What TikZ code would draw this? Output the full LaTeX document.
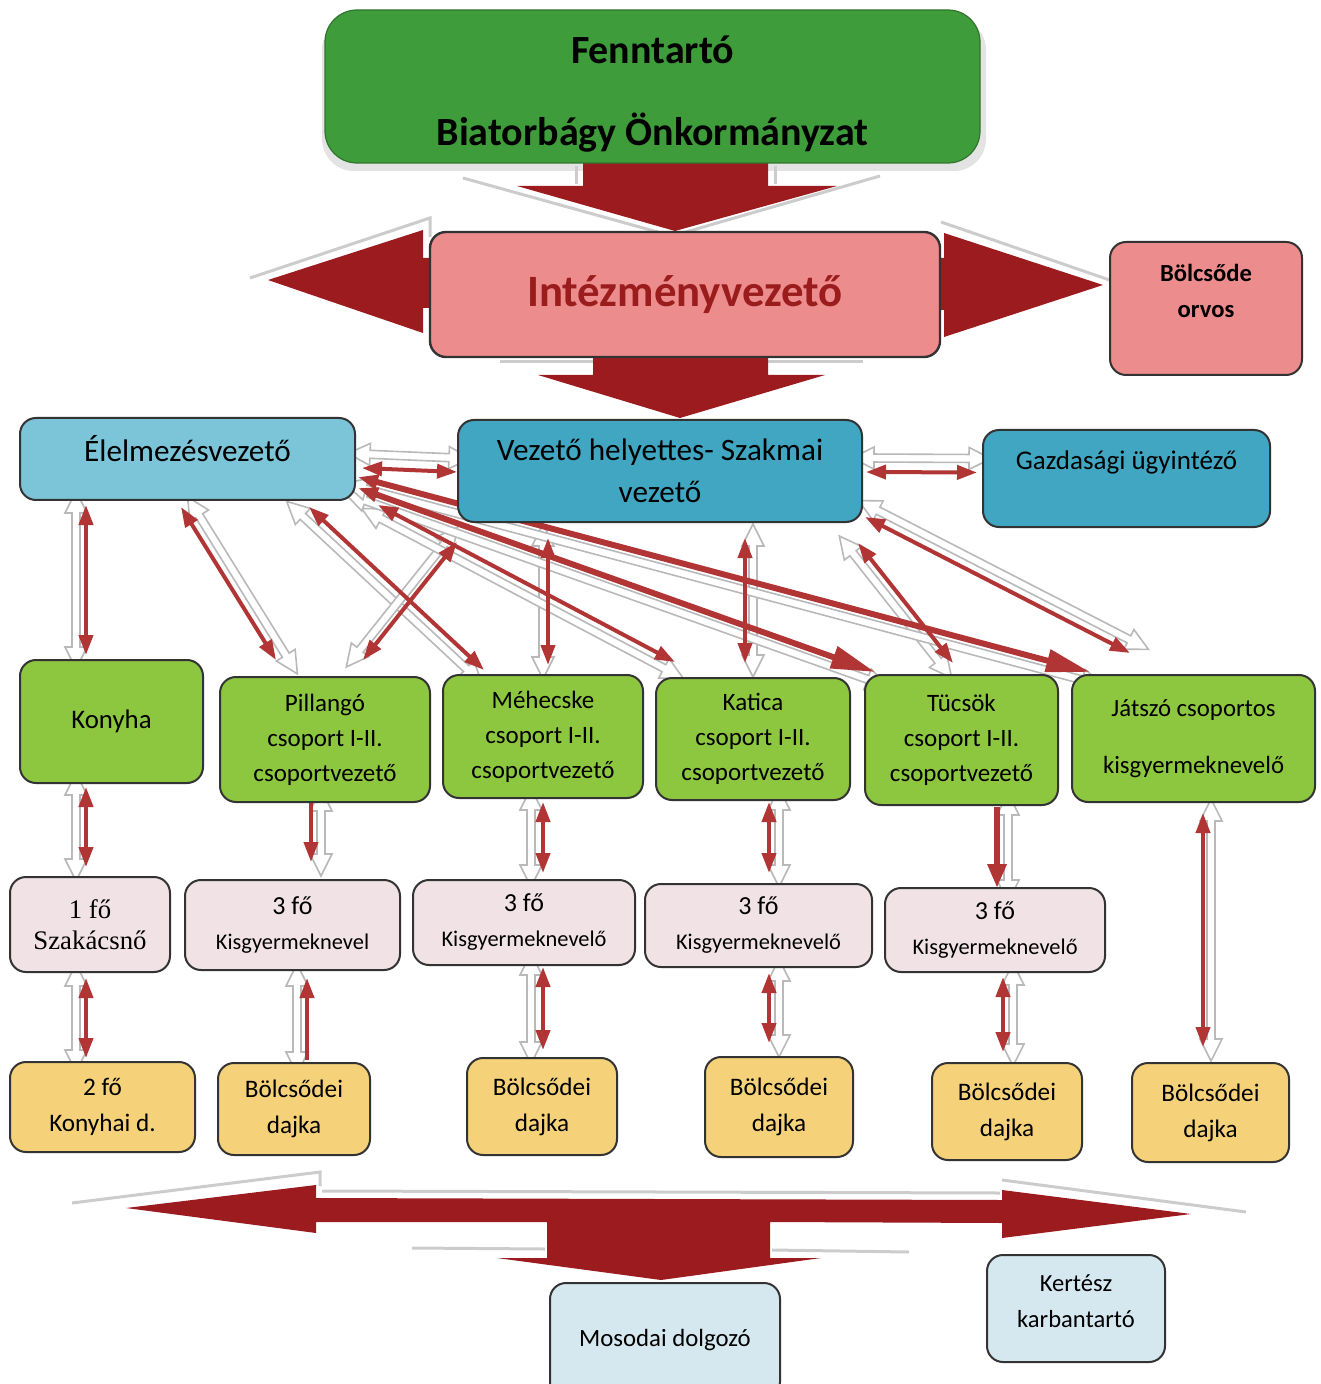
\documentclass[tikz,border=0pt]{standalone}
\usepackage{fontspec}
\setmainfont{Carlito}
\newfontfamily\timesf{Liberation Serif}
\usetikzlibrary{arrows.meta,calc}
\definecolor{fenng}{HTML}{3E9C3A}
\definecolor{pinkb}{HTML}{EC8C8C}
\definecolor{dred}{HTML}{9C1B1F}
\definecolor{tred}{HTML}{9B1C1C}
\definecolor{lblue}{HTML}{7CC5D8}
\definecolor{tealb}{HTML}{40A6C2}
\definecolor{lgreen}{HTML}{8DC63F}
\definecolor{lpink}{HTML}{F1E3E5}
\definecolor{yel}{HTML}{F5D27A}
\definecolor{pale}{HTML}{D5E8EF}
\definecolor{cred}{HTML}{B23535}
\pgfdeclarelayer{bg}
\pgfsetlayers{bg,main}
\tikzset{
  area/.style n args={4}{minimum width={(#3-#1)*0.5pt}, minimum height={(#4-#2)*0.5pt},
        at={({(#1+#3)/2},{(#2+#4)/2})}},
  bx/.style={inner sep=0pt, outer sep=0pt, rounded corners=8pt, draw=black!80, line width=1pt, align=center},
  grn/.style={bx, fill=lgreen, font=\fontsize{12.5}{17.5}\selectfont},
  pnk/.style={bx, fill=lpink, font=\fontsize{11.2}{17.5}\selectfont},
  ylw/.style={bx, fill=yel, font=\fontsize{12.6}{18}\selectfont},
  pl/.style={bx, fill=pale, font=\fontsize{12.4}{18}\selectfont},
  hol/.style={fill=white, draw=gray!55, line width=0.8pt, line join=miter},
  lnk/.style={draw=cred, line width=2pt, >={Triangle[width=7pt,length=10pt]}, <->},
  lnkbig/.style={draw=cred, line width=3pt,
        arrows={Triangle[width=7pt,length=10pt]-Triangle[width=11pt,length=22pt]}},
  lnkdown/.style={lnk, ->},
  lnkup/.style={lnk, <-},
  lnkdownbig/.style={draw=cred, line width=3pt, >={Triangle[width=9pt,length=12pt]}, ->},
  bigar/.style={fill=dred, draw=none},
  biggray/.style={draw=gray!40, line width=1.5pt},
}
\newcommand\hollow[2]{%
  \path ($(#1)!11pt!(#2)$) coordinate (hA) ($(#2)!11pt!(#1)$) coordinate (hB);
  \filldraw[hol] (#1) -- ($(hA)!5.5pt!90:(#2)$) -- ($(hA)!2pt!90:(#2)$)
    -- ($(hB)!2pt!-90:(#1)$) -- ($(hB)!5.5pt!-90:(#1)$) -- (#2)
    -- ($(hB)!5.5pt!90:(#1)$) -- ($(hB)!2pt!90:(#1)$)
    -- ($(hA)!2pt!-90:(#2)$) -- ($(hA)!5.5pt!-90:(#2)$) -- cycle;}
\newcommand\connlist{%
  \C{(elel.south west)+(66,5)}{(konyha.north west)+(66,-5)}{-10,0}{lnk}%
  \C{(elel.south west)+(161,7)}{(pill.north west)+(56,-17)}{14,2}{lnk}%
  \C{(elel.south west)+(289,7)}{(meh.north west)+(41,-5)}{-12,4}{lnk}%
  \C{(vez.south west)+(-1,20)}{(pill.north west)+(143,-17)}{-8,-4}{lnk}%
  \C{(vez.west)+(-1,1)}{(elel.east)+(7,9)}{0,-14}{lnk}%
  \C{(vez.south west)+(90,16)}{(meh.north west)+(105,-10)}{-5,0}{lnk}%
  \C{(vez.east)+(4,1)}{(gazd.west)+(-6,-6)}{0,-14}{lnk}%
  \C{(vez.south west)+(287,16)}{(kat.north west)+(89,-15)}{8,0}{lnk}%
  \C{(vez.south east)+(-4,21)}{(tuc.north west)+(88,-12)}{-10,4}{lnk}%
  \C{(vez.south east)+(3,-5)}{(jat.north west)+(58,-22)}{6,-10}{lnk}%
  \C{(elel.south east)+(23,5)}{(kat.north west)+(19,-16)}{-4,10}{lnk}%
  \C{(elel.south east)+(3,-12)}{(tuc.north west)+(10,-3)}{0,10}{lnkbig}%
  \C{(elel.south east)+(3,-23)}{(jat.north west)+(18,-3)}{0,10}{lnkbig}%
  \C{(konyha.south west)+(66,4)}{(szak.north west)+(76,-10)}{-10,0}{lnk}%
  \C{(szak.south west)+(76,6)}{(d0.north west)+(76,-4)}{-10,0}{lnk}%
  \C{(pill.south west)+(91,1)}{(k1.north west)+(126,-18)}{10,0}{lnkdown}%
  \C{(k1.south west)+(122,8)}{(d1.north west)+(89,-3)}{-10,0}{lnkup}%
  \C{(meh.south west)+(100,4)}{(k2.north west)+(130,-7)}{-12,0}{lnk}%
  \C{(k2.south west)+(130,2)}{(d2.north west)+(76,-8)}{-12,0}{lnk}%
  \C{(kat.south west)+(113,2)}{(k3.north west)+(124,-11)}{10,0}{lnk}%
  \C{(k3.south west)+(124,6)}{(d3.north west)+(64,-14)}{10,0}{lnk}%
  \C{(tuc.south west)+(132,2)}{(k4.north west)+(112,0)}{11,0}{lnkdownbig}%
  \C{(k4.south west)+(118,5)}{(d4.north west)+(71,-11)}{10,0}{lnk}%
  \C{(jat.south west)+(131,11)}{(d5.north west)+(71,-16)}{8,0}{lnk}%
}
\begin{document}
\begin{tikzpicture}[x=0.5pt, y=-0.5pt]
\useasboundingbox (0,0) rectangle (1320,1384);

% ---- boxes ----
\node[bx, fill=fenng, draw=fenng!75!black, line width=0.6pt, rounded corners=16pt,
      area={325}{10}{980}{163}] (fenn) {};
\node[font=\fontsize{20}{41}\selectfont\bfseries, align=center] (fennT)
      at ($(fenn.center)+(0,8)$) {Fenntartó\\Biatorbágy Önkormányzat};
\node[bx, fill=pinkb, line width=1.2pt, area={430}{232}{940}{357}, text=tred,
      font=\fontsize{22.4}{27}\selectfont\bfseries] (intez) {Intézményvezető};
\node[bx, fill=pinkb, area={1110}{242}{1302}{375}] (orvos) {};
\node[font=\fontsize{12.3}{18}\selectfont\bfseries, align=center] (orvosT)
      at ($(orvos.center)+(0,-18)$) {Bölcsőde\\orvos};

\node[bx, fill=lblue, area={20}{418}{355}{500}] (elel) {};
\node[font=\fontsize{15.6}{20}\selectfont] (elelT) at ($(elel.center)+(0,-10)$) {Élelmezésvezető};
\node[bx, fill=tealb, area={458}{420}{862}{522}, font=\fontsize{15.6}{21}\selectfont] (vez)
      {Vezető helyettes- Szakmai\\vezető};
\node[bx, fill=tealb, area={983}{430}{1270}{527}] (gazd) {};
\node[font=\fontsize{13.5}{18}\selectfont] (gazdT) at ($(gazd.center)+(0,-16)$) {Gazdasági ügyintéző};

\node[grn, area={20}{660}{203}{783}, font=\fontsize{13.4}{18}\selectfont] (konyha) {Konyha};
\node[grn, area={220}{677}{430}{802}] (pill) {Pillangó\\csoport I-II.\\csoportvezető};
\node[grn, area={443}{675}{643}{798}] (meh) {Méhecske\\csoport I-II.\\csoportvezető};
\node[grn, area={656}{678}{850}{800}] (kat) {Katica\\csoport I-II.\\csoportvezető};
\node[grn, area={865}{675}{1058}{805}] (tuc) {Tücsök\\csoport I-II.\\csoportvezető};
\node[grn, area={1072}{675}{1315}{802}, font=\fontsize{12.4}{28.5}\selectfont] (jat)
      {Játszó csoportos\\kisgyermeknevelő};

\node[pnk, area={10}{877}{170}{972}, font=\timesf\fontsize{13.4}{15.5}\selectfont] (szak) {1 fő\\Szakácsnő};
\node[pnk, area={185}{880}{400}{970}] (k1) {{\fontsize{13}{17.5}\selectfont 3 fő}\\Kisgyermeknevel};
\node[pnk, area={413}{880}{635}{965}] (k2) {{\fontsize{13}{17.5}\selectfont 3 fő}\\Kisgyermeknevelő};
\node[pnk, area={645}{884}{872}{967}] (k3) {{\fontsize{13}{17.5}\selectfont 3 fő}\\Kisgyermeknevelő};
\node[pnk, area={885}{888}{1105}{972}] (k4) {{\fontsize{13}{17.5}\selectfont 3 fő}\\Kisgyermeknevelő};

\node[ylw, area={10}{1062}{195}{1152}] (d0) {2 fő\\Konyhai d.};
\node[ylw, area={218}{1063}{370}{1155}] (d1) {Bölcsődei\\dajka};
\node[ylw, area={467}{1058}{617}{1155}] (d2) {Bölcsődei\\dajka};
\node[ylw, area={705}{1057}{853}{1157}] (d3) {Bölcsődei\\dajka};
\node[ylw, area={932}{1063}{1082}{1160}] (d4) {Bölcsődei\\dajka};
\node[ylw, area={1132}{1063}{1289}{1162}] (d5) {Bölcsődei\\dajka};

\node[pl, area={550}{1283}{780}{1398}] (mos) {Mosodai dolgozó};
\node[pl, area={987}{1255}{1165}{1362}] (kert) {};
\node[font=\fontsize{12.3}{18}\selectfont, align=center] (kertT) at ($(kert.center)+(0,-7)$) {Kertész\\karbantartó};

% ---- background: big arrows and connectors ----
\begin{pgfonlayer}{bg}
  \fill[gray!22, rounded corners=16pt] (322,18) rectangle (986,171);
  % gray reflections of the big arrows
  \draw[biggray] (463,178) -- (672,236) -- (880,176);
  \draw[biggray] (576,166) -- (576,184) (775,166) -- (775,184);
  \draw[biggray] (500,362) -- (593,362) (768,362) -- (863,362);
  \draw[biggray] (250,278) -- (430,218) -- (430,237);
  \draw[biggray] (941,222) -- (1124,285);
  \draw[biggray] (72,1203) -- (320,1172) -- (320,1186);
  \draw[biggray] (322,1191) -- (1000,1193);
  \draw[biggray] (1002,1180) -- (1246,1212);
  \draw[biggray] (412,1248) -- (545,1249) (772,1250) -- (909,1252);
  % big red block arrows
  \fill[bigar] (583,160) -- (768,160) -- (768,186) -- (837,186) -- (675,231)
        -- (517,186) -- (583,186) -- cycle;
  \fill[bigar] (593,350) -- (768,350) -- (768,375) -- (825,375) -- (680,418)
        -- (538,375) -- (593,375) -- cycle;
  \fill[bigar] (440,258) -- (423,258) -- (423,230) -- (268,280) -- (423,333)
        -- (423,308) -- (440,308) -- cycle;
  \fill[bigar] (930,258) -- (944,258) -- (944,233) -- (1103,285) -- (944,337)
        -- (944,310) -- (930,310) -- cycle;
  \fill[bigar] (126,1208) -- (316,1185) -- (316,1198) -- (1002,1200) -- (1002,1190)
        -- (1191,1214) -- (1002,1238) -- (1002,1223) -- (770,1222) -- (770,1258)
        -- (821,1258) -- (661,1280) -- (497,1258) -- (547,1258) -- (547,1222)
        -- (316,1222) -- (316,1233) -- cycle;
  % hollow (white) companions of the connectors
  \def\C#1#2#3#4{%
    \path ($#1$) coordinate (cA) ($#2$) coordinate (cB);
    \path ($(cA)+(#3)$) coordinate (gA0) ($(cB)+(#3)$) coordinate (gB0);
    \path ($(gA0)!-7pt!(gB0)$) coordinate (gA) ($(gB0)!-7pt!(gA0)$) coordinate (gB);
    \hollow{gA}{gB}}
  \connlist
  % red connectors
  \def\C#1#2#3#4{\draw[#4] ($#1$) -- ($#2$);}
  \connlist
\end{pgfonlayer}
\end{tikzpicture}
\end{document}
